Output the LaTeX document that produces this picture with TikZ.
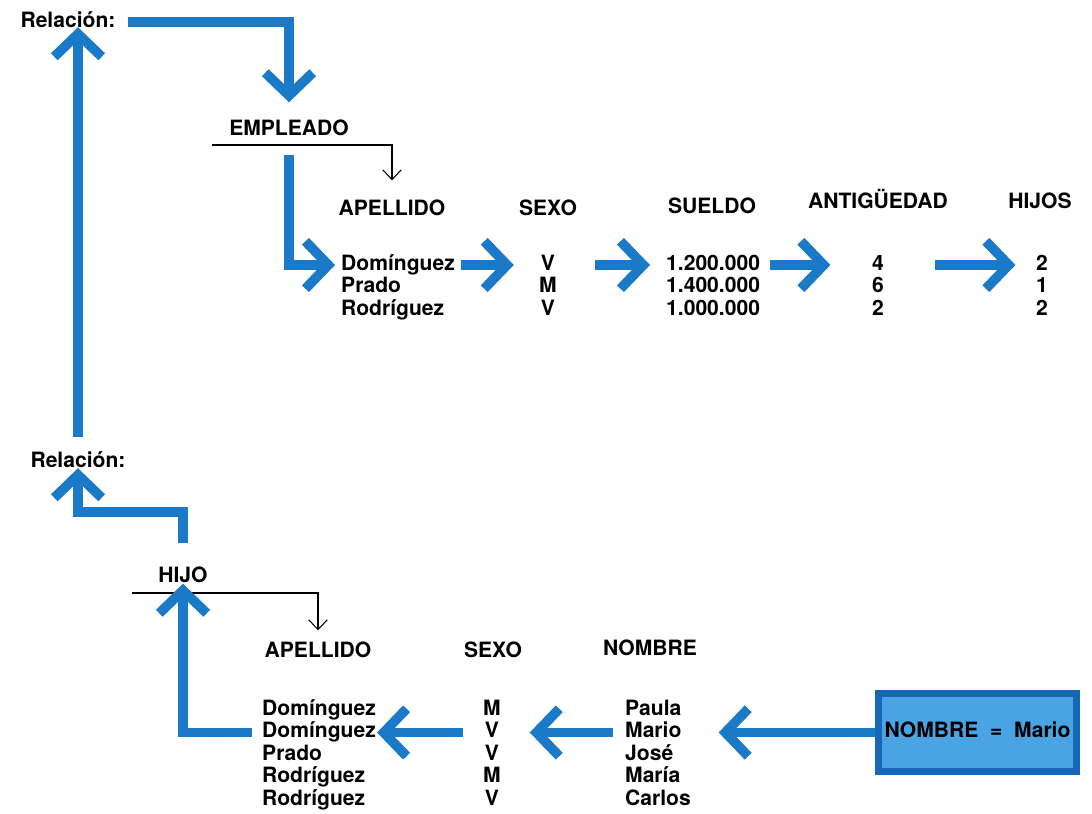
\documentclass[tikz,border=0pt]{standalone}
\usepackage{fontspec}
\setmainfont{TeX Gyre Heros}
\usetikzlibrary{arrows.meta}
\definecolor{azul}{RGB}{26,122,200}
\definecolor{azulclaro}{RGB}{74,163,226}
\definecolor{azuloscuro}{RGB}{22,104,182}

\begin{document}
\begin{tikzpicture}[x=0.02cm, y=-0.02cm, font=\fontsize{12}{14}\selectfont\bfseries,
  dato/.style={text height=8.8pt, text depth=2.6pt},
  flecha/.style={azul, line width=5.5pt, -{Straight Barb[length=13pt, width=27pt]}},
  fina/.style={black, line width=0.6pt, -{Straight Barb[length=5.5pt, width=10.5pt]}},
  filtro/.style={draw=azuloscuro, fill=azulclaro, line width=4pt, minimum width=3.84cm, minimum height=1.56cm}]
\fill[white] (0,0) rectangle (1092,814);
\useasboundingbox (0,0) rectangle (1092,814);

% relaciones
\node[dato] (rel1) at (68,22) {Relación:};
\node[dato] (rel2) at (78,462) {Relación:};

% tabla EMPLEADO
\node[dato] (emp) at (289,130) {EMPLEADO};
\coordinate (elin) at (212,145);
\foreach \n/\x/\y/\t in {eape/392/210/APELLIDO, esex/548/210/SEXO, esue/712/208/SUELDO,
    eant/878/203/ANTIGÜEDAD, ehij/1040/203/HIJOS}
  \node[dato] (\n) at (\x,\y) {\t};
\foreach \t [count=\i] in {Domínguez, Prado, Rodríguez}
  \node[dato, anchor=west] (ea\i) at (335, {242.5+22.5*\i}) {\t};
\foreach \t [count=\i] in {V, M, V}
  \node[dato] (es\i) at (548, {242.5+22.5*\i}) {\t};
\foreach \t [count=\i] in {1.200.000, 1.400.000, 1.000.000}
  \node[dato, anchor=west] (eu\i) at (660, {242.5+22.5*\i}) {\t};
\foreach \t [count=\i] in {4, 6, 2}
  \node[dato] (et\i) at (878, {242.5+22.5*\i}) {\t};
\foreach \t [count=\i] in {2, 1, 2}
  \node[dato] (eh\i) at (1042, {242.5+22.5*\i}) {\t};

% tabla HIJO
\node[dato] (hijo) at (183,577) {HIJO};
\coordinate (hlin) at (132,593);
\coordinate (hcodo) at (183,512);
\foreach \n/\x/\y/\t in {hape/318/652/APELLIDO, hsex/493/652/SEXO, hnom/650/650/NOMBRE}
  \node[dato] (\n) at (\x,\y) {\t};
\foreach \t [count=\i] in {Domínguez, Domínguez, Prado, Rodríguez, Rodríguez}
  \node[dato, anchor=west] (ha\i) at (256, {687.5+22.5*\i}) {\t};
\foreach \t [count=\i] in {M, V, V, M, V}
  \node[dato] (hs\i) at (492, {687.5+22.5*\i}) {\t};
\foreach \t [count=\i] in {Paula, Mario, José, María, Carlos}
  \node[dato, anchor=west] (hn\i) at (619, {687.5+22.5*\i}) {\t};
\node[filtro, dato] (fil) at (977.5,732.5) {NOMBRE ~=~ Mario};

% flechas
\draw[flecha, shorten <=0.12cm, shorten >=0.23cm] (rel1.east) -| (emp.north);
\draw[flecha, shorten <=0.17cm, shorten >=-0.22cm] (rel2.north) -- (rel2.north |- rel1.south);
\draw[flecha, shorten <=0.35cm, shorten >=-0.2cm] (hijo.north) -- (hcodo) -| (rel2.south);
\draw[flecha, shorten <=0.17cm] (emp.south) |- (ea1.west);
\draw[flecha, shorten >=0.42cm] (ea1.east) -- (es1.west);
\draw[flecha, shorten <=0.67cm, shorten >=0.2cm] (es1.east) -- (eu1.west);
\draw[flecha, shorten <=0.08cm, shorten >=0.71cm] (eu1.east) -- (et1.west);
\draw[flecha, shorten <=0.89cm, shorten >=0.29cm] (et1.east) -- (eh1.west);
\draw[fina, shorten >=0.27cm] (elin) -| (eape.north);
\draw[fina, shorten >=0.11cm] (hlin) -| (hape.north);
\draw[flecha, shorten <=0.08cm, shorten >=-0.19cm] (ha2.west) -| (hijo.south);
\draw[flecha, shorten <=0.31cm, shorten >=-0.1cm] (hs2.west) -- (ha2.east);
\draw[flecha, shorten <=0.12cm, shorten >=0.49cm] (hn2.west) -- (hs2.east);
\draw[flecha, shorten >=0.62cm] (fil.west) -- (hn2.east);
\end{tikzpicture}
\end{document}
